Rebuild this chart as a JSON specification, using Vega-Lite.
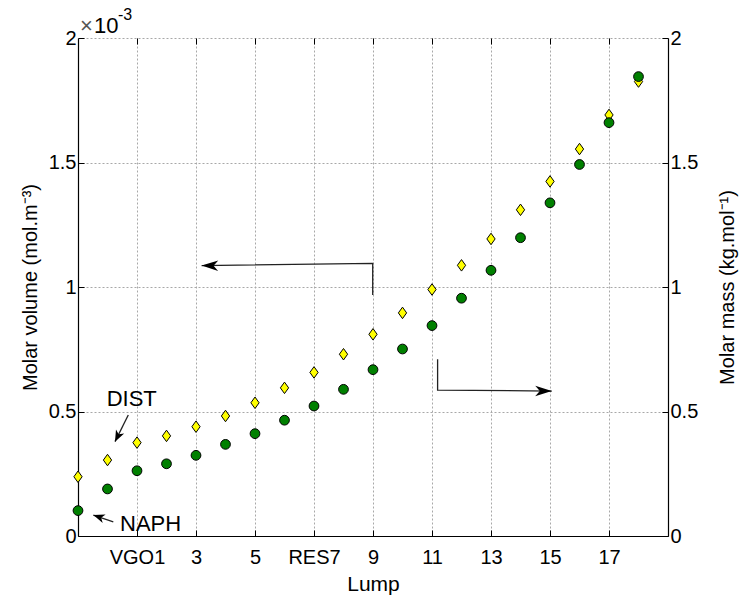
{
  "$schema": "https://vega.github.io/schema/vega-lite/v6.json",
  "width": 590,
  "height": 498,
  "autosize": {"type": "none"},
  "padding": {"left": 78, "top": 38, "right": 73, "bottom": 62},
  "background": "white",
  "config": {
    "view": {"stroke": null},
    "font": "Liberation Sans",
    "axis": {
      "labelFont": "Liberation Sans",
      "titleFont": "Liberation Sans",
      "labelFontSize": 20,
      "titleFontSize": 20,
      "titleFontWeight": "normal",
      "labelColor": "#000",
      "titleColor": "#000",
      "domainColor": "#000",
      "tickColor": "#000",
      "gridColor": "#a8a8a8",
      "gridDash": [2, 2],
      "gridWidth": 1
    }
  },
  "datasets": {
    "points": [
      {"lump": -1, "series": "volume", "value": 0.238},
      {"lump": 0, "series": "volume", "value": 0.305},
      {"lump": 1, "series": "volume", "value": 0.375},
      {"lump": 2, "series": "volume", "value": 0.402},
      {"lump": 3, "series": "volume", "value": 0.439},
      {"lump": 4, "series": "volume", "value": 0.482},
      {"lump": 5, "series": "volume", "value": 0.535},
      {"lump": 6, "series": "volume", "value": 0.595},
      {"lump": 7, "series": "volume", "value": 0.657},
      {"lump": 8, "series": "volume", "value": 0.730},
      {"lump": 9, "series": "volume", "value": 0.810},
      {"lump": 10, "series": "volume", "value": 0.896},
      {"lump": 11, "series": "volume", "value": 0.990},
      {"lump": 12, "series": "volume", "value": 1.087},
      {"lump": 13, "series": "volume", "value": 1.193},
      {"lump": 14, "series": "volume", "value": 1.310},
      {"lump": 15, "series": "volume", "value": 1.424},
      {"lump": 16, "series": "volume", "value": 1.554},
      {"lump": 17, "series": "volume", "value": 1.691},
      {"lump": 18, "series": "volume", "value": 1.825},
      {"lump": -1, "series": "mass", "value": 0.102},
      {"lump": 0, "series": "mass", "value": 0.189},
      {"lump": 1, "series": "mass", "value": 0.262},
      {"lump": 2, "series": "mass", "value": 0.290},
      {"lump": 3, "series": "mass", "value": 0.324},
      {"lump": 4, "series": "mass", "value": 0.368},
      {"lump": 5, "series": "mass", "value": 0.411},
      {"lump": 6, "series": "mass", "value": 0.465},
      {"lump": 7, "series": "mass", "value": 0.522},
      {"lump": 8, "series": "mass", "value": 0.589},
      {"lump": 9, "series": "mass", "value": 0.668},
      {"lump": 10, "series": "mass", "value": 0.751},
      {"lump": 11, "series": "mass", "value": 0.845},
      {"lump": 12, "series": "mass", "value": 0.955},
      {"lump": 13, "series": "mass", "value": 1.067},
      {"lump": 14, "series": "mass", "value": 1.198},
      {"lump": 15, "series": "mass", "value": 1.338},
      {"lump": 16, "series": "mass", "value": 1.492},
      {"lump": 17, "series": "mass", "value": 1.660},
      {"lump": 18, "series": "mass", "value": 1.845}
    ],
    "arrows": [
      {"id": "a1", "ord": 1, "lump": 8.99, "value": 0.968},
      {"id": "a1", "ord": 2, "lump": 8.99, "value": 1.095},
      {"id": "a1", "ord": 3, "lump": 3.19, "value": 1.086},
      {"id": "a2", "ord": 1, "lump": 11.19, "value": 0.710},
      {"id": "a2", "ord": 2, "lump": 11.19, "value": 0.586},
      {"id": "a2", "ord": 3, "lump": 15.06, "value": 0.582},
      {"id": "dist", "ord": 1, "lump": 0.705, "value": 0.486},
      {"id": "dist", "ord": 2, "lump": 0.254, "value": 0.379},
      {"id": "naph", "ord": 1, "lump": 0.197, "value": 0.057},
      {"id": "naph", "ord": 2, "lump": -0.48, "value": 0.084}
    ],
    "heads": [
      {"kind": "big", "lump": 3.19, "value": 1.086, "dir": 180.8},
      {"kind": "big", "lump": 15.06, "value": 0.582, "dir": 0.5},
      {"kind": "small", "lump": 0.254, "value": 0.379, "dir": 116.5},
      {"kind": "small", "lump": -0.48, "value": 0.084, "dir": 198.5}
    ],
    "labels": [
      {"text": "DIST", "lump": 0.82, "value": 0.552},
      {"text": "NAPH", "lump": 1.46, "value": 0.047}
    ]
  },
  "layer": [
    {
      "data": {"name": "points"},
      "transform": [{"filter": "datum.series === 'volume'"}],
      "mark": {
        "type": "point",
        "shape": "M0,-1L0.72,0L0,1L-0.72,0Z",
        "filled": true,
        "fill": "#ffff00",
        "stroke": "#000",
        "strokeWidth": 1,
        "opacity": 1,
        "size": 132
      },
      "encoding": {
        "x": {
          "field": "lump", "type": "quantitative",
          "scale": {"domain": [-1, 19], "nice": false, "zero": false},
          "axis": {
            "title": "Lump",
            "titleFontSize": 21,
            "values": [1, 3, 5, 7, 9, 11, 13, 15, 17],
            "labelExpr": "datum.value == 1 ? 'VGO1' : datum.value == 7 ? 'RES7' : datum.label",
            "grid": true,
            "tickSize": -6,
            "labelPadding": 17,
            "titlePadding": 6,
            "domainWidth": 1.2
          }
        },
        "y": {
          "field": "value", "type": "quantitative",
          "scale": {"domain": [0, 2], "nice": false},
          "axis": {
            "title": "Molar volume (mol.m⁻³)",
            "values": [0, 0.5, 1, 1.5, 2],
            "format": "~g",
            "grid": true,
            "tickSize": -6,
            "labelPadding": 8,
            "titlePadding": 8,
            "domainWidth": 1.2
          }
        }
      }
    },
    {
      "data": {"name": "points"},
      "transform": [{"filter": "datum.series === 'mass'"}],
      "mark": {
        "type": "point",
        "shape": "circle",
        "filled": true,
        "fill": "#008000",
        "stroke": "#000",
        "strokeWidth": 1,
        "opacity": 1,
        "size": 95
      },
      "encoding": {
        "x": {
          "field": "lump", "type": "quantitative",
          "scale": {"domain": [-1, 19], "nice": false, "zero": false},
          "axis": {
            "orient": "top",
            "values": [1, 3, 5, 7, 9, 11, 13, 15, 17],
            "labels": false,
            "domain": false,
            "grid": false,
            "tickSize": -6,
            "title": null
          }
        },
        "y": {
          "field": "value", "type": "quantitative",
          "scale": {"domain": [0, 2], "nice": false},
          "axis": {
            "orient": "right",
            "title": "Molar mass (kg.mol⁻¹)",
            "titleAngle": 270,
            "values": [0, 0.5, 1, 1.5, 2],
            "format": "~g",
            "grid": false,
            "tickSize": -6,
            "labelPadding": 8,
            "titlePadding": 40,
            "domainWidth": 1.2
          }
        }
      }
    },
    {
      "data": {"name": "arrows"},
      "mark": {"type": "line", "color": "#222", "strokeWidth": 1.3},
      "encoding": {
        "x": {"field": "lump", "type": "quantitative", "scale": {"domain": [-1, 19], "nice": false, "zero": false}, "axis": null},
        "y": {"field": "value", "type": "quantitative", "scale": {"domain": [0, 2], "nice": false}, "axis": null},
        "detail": {"field": "id"},
        "order": {"field": "ord", "type": "quantitative"}
      }
    },
    {
      "data": {"name": "heads"},
      "transform": [{"filter": "datum.kind === 'big'"}],
      "mark": {"type": "point", "shape": "M0,0L-1,-0.32L-0.72,0L-1,0.32Z", "filled": true, "fill": "#000", "opacity": 1, "size": 1100},
      "encoding": {
        "x": {"field": "lump", "type": "quantitative", "scale": {"domain": [-1, 19], "nice": false, "zero": false}, "axis": null},
        "y": {"field": "value", "type": "quantitative", "scale": {"domain": [0, 2], "nice": false}, "axis": null},
        "angle": {"field": "dir", "type": "quantitative", "scale": null}
      }
    },
    {
      "data": {"name": "heads"},
      "transform": [{"filter": "datum.kind === 'small'"}],
      "mark": {"type": "point", "shape": "M0,0L-1,-0.4L-0.72,0L-1,0.4Z", "filled": true, "fill": "#000", "opacity": 1, "size": 520},
      "encoding": {
        "x": {"field": "lump", "type": "quantitative", "scale": {"domain": [-1, 19], "nice": false, "zero": false}, "axis": null},
        "y": {"field": "value", "type": "quantitative", "scale": {"domain": [0, 2], "nice": false}, "axis": null},
        "angle": {"field": "dir", "type": "quantitative", "scale": null}
      }
    },
    {
      "data": {"name": "labels"},
      "mark": {"type": "text", "fontSize": 22, "font": "Liberation Sans", "color": "#000", "align": "center", "baseline": "middle"},
      "encoding": {
        "x": {"field": "lump", "type": "quantitative", "scale": {"domain": [-1, 19], "nice": false, "zero": false}, "axis": null},
        "y": {"field": "value", "type": "quantitative", "scale": {"domain": [0, 2], "nice": false}, "axis": null},
        "text": {"field": "text"}
      }
    },
    {
      "data": {"values": [{"text": "×", "lump": -1, "value": 2}]},
      "mark": {"type": "text", "fontSize": 22, "font": "Liberation Sans", "color": "#555", "align": "left", "baseline": "alphabetic", "dx": 2, "dy": -5},
      "encoding": {
        "x": {"field": "lump", "type": "quantitative", "scale": {"domain": [-1, 19], "nice": false, "zero": false}, "axis": null},
        "y": {"field": "value", "type": "quantitative", "scale": {"domain": [0, 2], "nice": false}, "axis": null},
        "text": {"field": "text"}
      }
    },
    {
      "data": {"values": [{"text": "10", "lump": -1, "value": 2}]},
      "mark": {"type": "text", "fontSize": 22, "font": "Liberation Sans", "color": "#000", "align": "left", "baseline": "alphabetic", "dx": 16, "dy": -5},
      "encoding": {
        "x": {"field": "lump", "type": "quantitative", "scale": {"domain": [-1, 19], "nice": false, "zero": false}, "axis": null},
        "y": {"field": "value", "type": "quantitative", "scale": {"domain": [0, 2], "nice": false}, "axis": null},
        "text": {"field": "text"}
      }
    },
    {
      "data": {"values": [{"text": "-3", "lump": -1, "value": 2}]},
      "mark": {"type": "text", "fontSize": 16, "font": "Liberation Sans", "color": "#000", "align": "left", "baseline": "alphabetic", "dx": 40, "dy": -18},
      "encoding": {
        "x": {"field": "lump", "type": "quantitative", "scale": {"domain": [-1, 19], "nice": false, "zero": false}, "axis": null},
        "y": {"field": "value", "type": "quantitative", "scale": {"domain": [0, 2], "nice": false}, "axis": null},
        "text": {"field": "text"}
      }
    }
  ],
  "resolve": {"scale": {"y": "independent", "x": "independent"}}
}
